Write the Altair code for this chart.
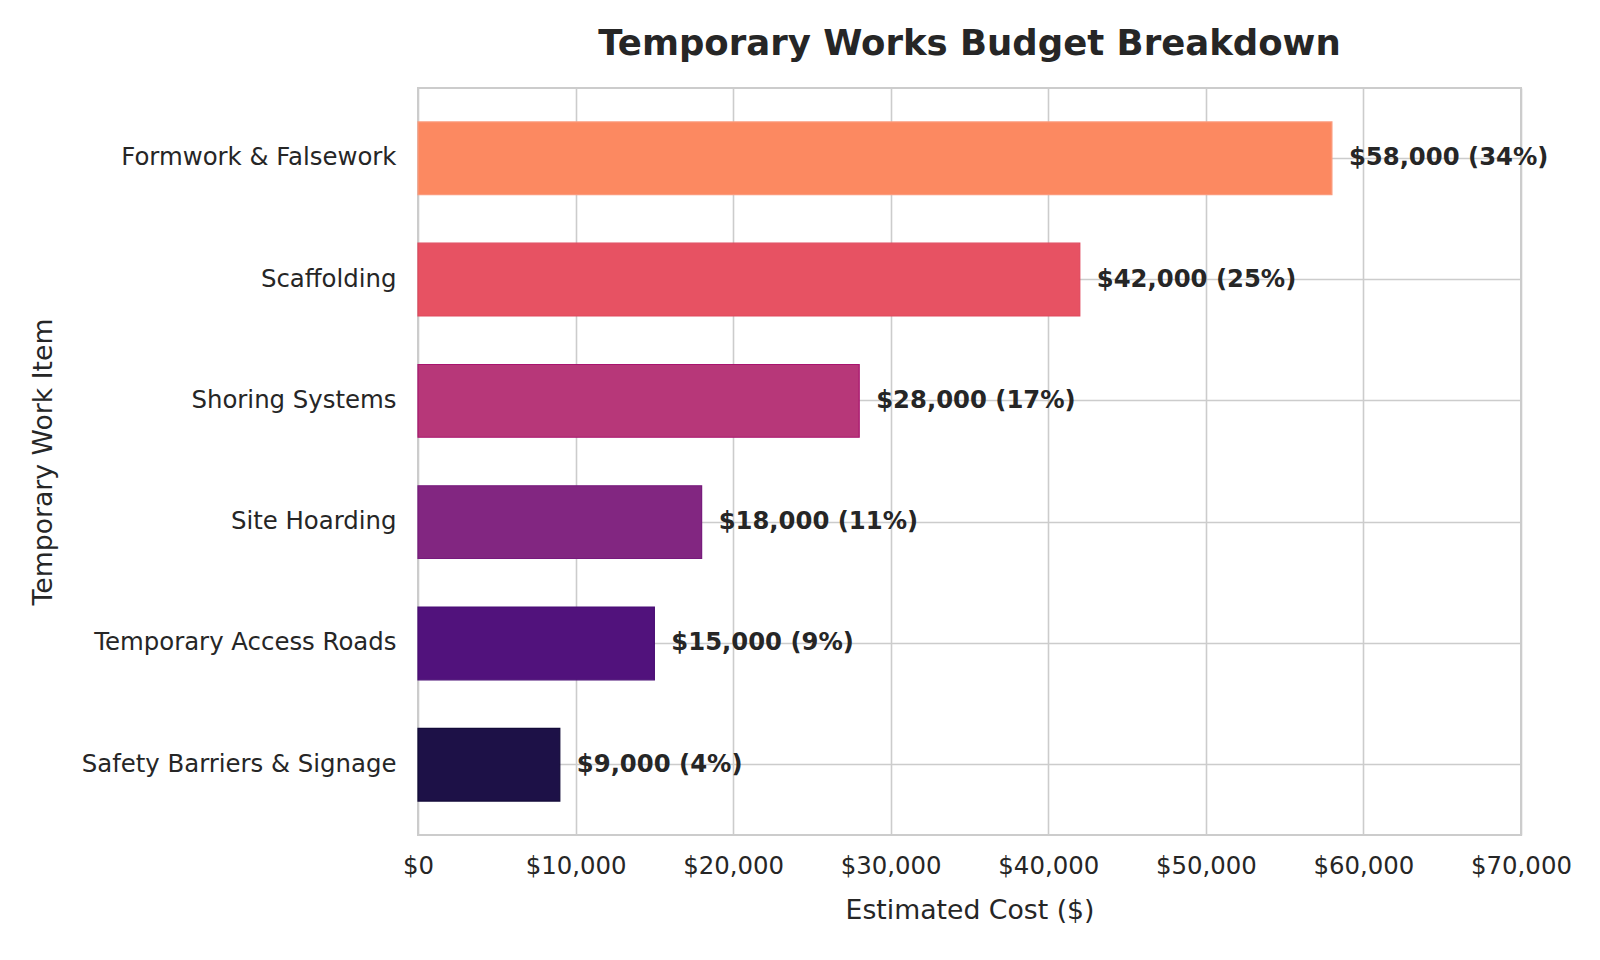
import altair as alt
import pandas as pd

# Budget items, top to bottom as in the chart
items = [
    "Formwork & Falsework",
    "Scaffolding",
    "Shoring Systems",
    "Site Hoarding",
    "Temporary Access Roads",
    "Safety Barriers & Signage",
]
costs = [58000, 42000, 28000, 18000, 15000, 9000]
shares = [34, 25, 17, 11, 9, 4]
fills = ["#fc8961", "#e75263", "#b73779", "#822681", "#51127c", "#1d1147"]
edges = ["#fb9a7c", "#e0485c", "#a8146e", "#761a7c", "#480c74", "#120a38"]

df = pd.DataFrame(
    {
        "item": items,
        "cost": costs,
        "share": shares,
        "fill": fills,
        "edge": edges,
    }
)
df["label"] = [f"${c:,} ({s}%)" for c, s in zip(costs, shares)]

FONT = "DejaVu Sans"
INK = "#262626"
GRID = "#cccccc"
W, H = 1103, 747

y_enc = alt.Y(
    "item:N",
    sort=items,
    title="Temporary Work Item",
    scale=alt.Scale(paddingInner=0.4, paddingOuter=0.28),
    axis=alt.Axis(
        labelFont=FONT,
        titleFont=FONT,
        labelColor=INK,
        titleColor=INK,
        titleFontWeight="normal",
        labelFontSize=24.4,
        titleFontSize=26.7,
        labelPadding=22,
        titleAngle=270,
        titleAlign="center",
        titleBaseline="middle",
        titleX=-375,
        titleY=H / 2,
        ticks=False,
        domain=False,
        grid=True,
        gridColor=GRID,
        gridWidth=1.6,
        bandPosition=0.5,
        labelLimit=600,
    ),
)

x_enc = alt.X(
    "cost:Q",
    title="Estimated Cost ($)",
    scale=alt.Scale(domain=[0, 70000], nice=False),
    axis=alt.Axis(
        values=list(range(0, 70001, 10000)),
        labelExpr="'$' + format(datum.value, ',')",
        labelFont=FONT,
        titleFont=FONT,
        labelColor=INK,
        titleColor=INK,
        titleFontWeight="normal",
        labelFontSize=24.4,
        titleFontSize=26.7,
        labelPadding=19,
        titlePadding=20,
        labelFlush=False,
        ticks=False,
        domain=False,
        grid=True,
        gridColor=GRID,
        gridWidth=1.6,
    ),
)

bars = (
    alt.Chart(df)
    .mark_bar(strokeWidth=1.2)
    .encode(
        x=x_enc,
        y=y_enc,
        color=alt.Color("fill:N", scale=None, legend=None),
        stroke=alt.Stroke("edge:N", scale=None, legend=None),
    )
)

text = (
    alt.Chart(df)
    .mark_text(
        align="left",
        baseline="middle",
        dx=17,
        fontSize=24.3,
        fontWeight="bold",
        color=INK,
        font=FONT,
    )
    .encode(x="cost:Q", y=alt.Y("item:N", sort=items), text="label:N")
)

chart = (
    (bars + text)
    .properties(
        width=W,
        height=H,
        background="white",
        autosize=alt.AutoSizeParams(type="none"),
        padding={"left": 410, "top": 80, "right": 71, "bottom": 117},
        title=alt.TitleParams(
            "Temporary Works Budget Breakdown",
            fontSize=35.5,
            fontWeight="bold",
            font=FONT,
            color=INK,
            anchor="middle",
            baseline="bottom",
            offset=-9,
        ),
    )
    .configure_view(stroke=GRID, strokeWidth=2)
)

chart.save("out.html", embed_options={"renderer": "svg", "actions": False})
